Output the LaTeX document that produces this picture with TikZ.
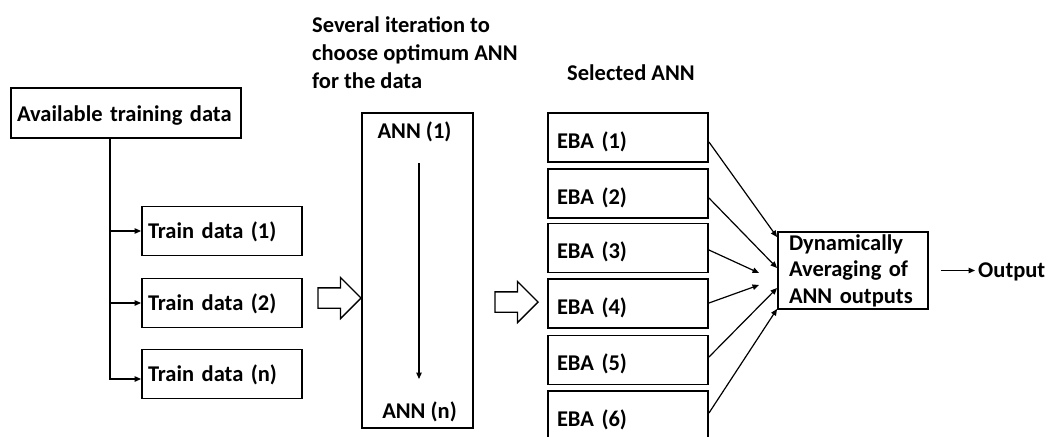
\documentclass[tikz,border=0pt]{standalone}
\usepackage{fontspec}
\setmainfont{Carlito}
\usetikzlibrary{arrows.meta,shapes.arrows,calc}
\begin{document}
\begin{tikzpicture}[x=1pt,y=-1pt,
  every node/.style={font=\fontsize{22.5}{27.5}\selectfont\bfseries},
  box/.style={draw, line width=1.9pt, align=left, inner ysep=0pt, text depth=0pt},
  availbox/.style={box, text width=218pt, inner xsep=6pt, minimum height=50pt, text height=16pt},
  trainbox/.style={box, text width=148pt, inner xsep=6pt, minimum height=49pt, text height=14pt},
  ebabox/.style={box, text width=142pt, inner xsep=9pt, minimum height=49pt, text height=21pt},
  dynbox/.style={draw, line width=1.9pt, align=left, inner ysep=0pt, text width=128pt, inner xsep=11pt, minimum height=77pt, font=\fontsize{22.5}{26.5}\selectfont\bfseries},
  plain/.style={inner sep=0pt},
  conn/.style={line width=1.2pt, -{Triangle[length=6.5pt,width=5.5pt]}},
  bigarrow/.style={single arrow, draw, line width=1.3pt, inner xsep=0pt, inner ysep=9.5pt, single arrow head extend=10.5pt, minimum height=43pt}
]
\fill[white] (0,0) rectangle (1048,436);
\clip (0,0) rectangle (1048,436);

% titles
\node[plain, anchor=base west, align=left] (t1) at (312,88) {Several iteration to\\choose optimum ANN\\for the data};
\node[plain, anchor=base west] (t2) at (567,81) {Selected ANN};

% left column
\node[availbox] (avail) at (126,113) {Available training data};
\node[trainbox] (tr1) at (222,231) {Train data (1)};
\node[trainbox] (tr2) at (222,303) {Train data (2)};
\node[trainbox] (trn) at (222,374) {Train data (n)};
\coordinate (trunk) at ($(avail.south)+(-16,0)$);
\draw[conn] (trunk) |- ($(trn.west)+(0,5)$);
\draw[conn] (trunk |- tr1.west) -- (tr1.west);
\draw[conn] (trunk |- tr2.west) -- (tr2.west);

% block arrows
\node[bigarrow] (ba1) at (334.5,298) {};
\node[bigarrow] (ba2) at (511.5,302) {};

% ANN column
\node[draw, line width=1.9pt, minimum width=111pt, minimum height=315pt, inner sep=0pt] (annbox) at (417.5,270.5) {};
\node[plain, anchor=base] (ann1) at (414.5,138) {ANN (1)};
\node[plain, anchor=base] (annn) at (419.5,418) {ANN (n)};
\draw[conn] ($(ann1.base)+(4.5,25)$) -- ($(annn.base)+(-0.5,-39)$);

% EBA column
\foreach \i/\y in {1/137.5,2/193.5,3/248,4/303.5,5/360,6/415.5}
  \node[ebabox] (eba\i) at (628,\y) {EBA (\i)};

% averaging
\node[dynbox] (dyn) at (853,270.5) {Dynamically\\Averaging of\\ANN outputs};

\draw[conn] ($(eba1.east)+(0,4.5)$) -- ($(dyn.north west)+(0,6)$);
\draw[conn] ($(eba2.east)+(0,4.5)$) -- ($(dyn.west)+(0,-2.5)$);
\draw[conn] ($(eba3.east)+(0,2)$) -- ($(dyn.west)+(-18,2.5)$);
\draw[conn] ($(eba4.east)+(0,-0.5)$) -- ($(dyn.west)+(-18,14.5)$);
\draw[conn] ($(eba5.east)+(0,-3)$) -- ($(dyn.west)+(0,17.5)$);
\draw[conn] ($(eba6.east)+(0,-2.5)$) -- ($(dyn.south west)+(0,-1)$);

% output
\node[plain, anchor=base west] (out) at (978,277) {Output};
\draw[conn] ($(dyn.east)+(12,0)$) -- ($(out.west |- dyn.east)+(-3,0)$);
\end{tikzpicture}
\end{document}
